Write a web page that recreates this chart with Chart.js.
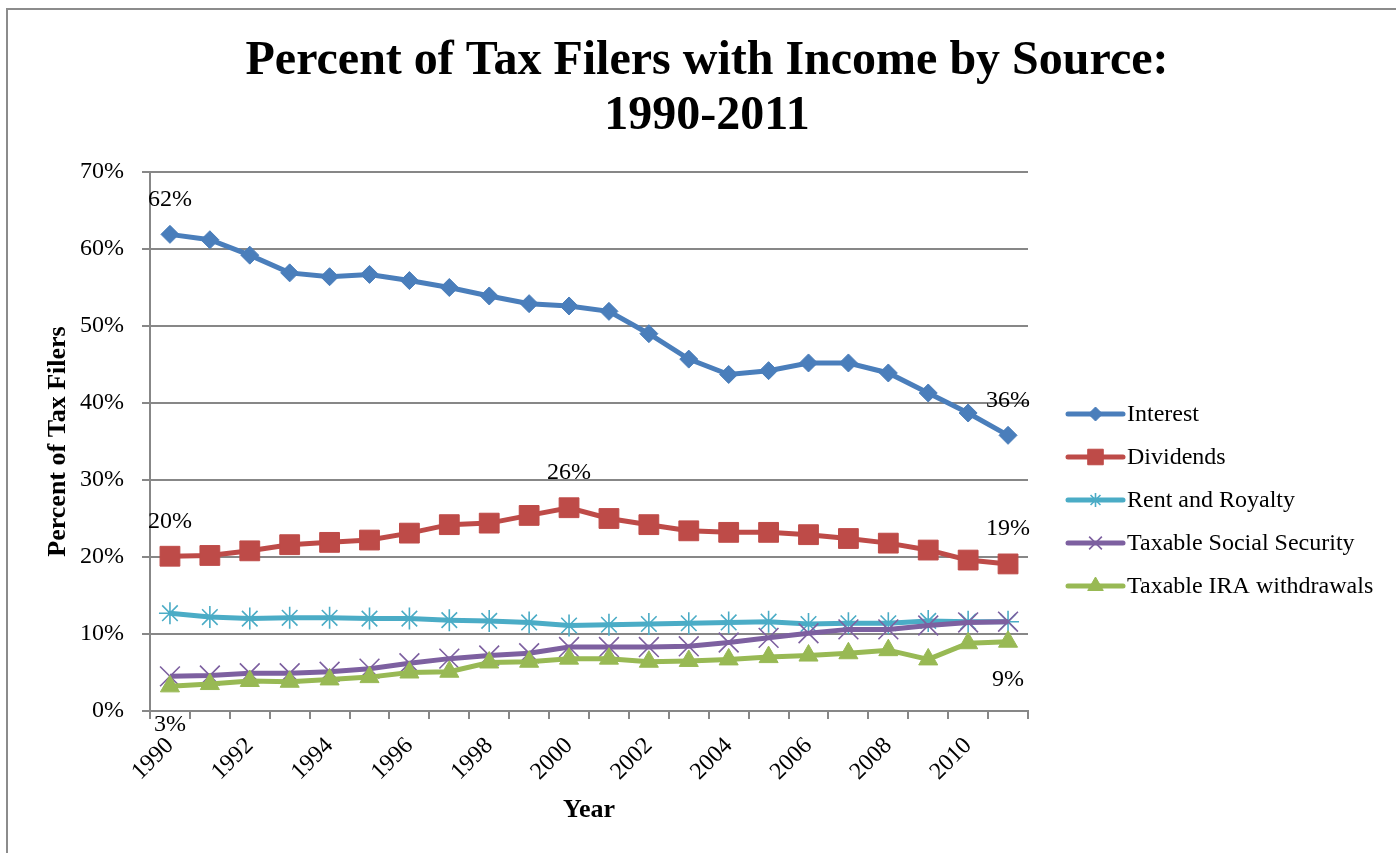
<!DOCTYPE html>
<html>
<head>
<meta charset="utf-8">
<script src="https://cdn.jsdelivr.net/npm/chart.js@4.4.1/dist/chart.umd.min.js"></script>
<style>
  html, body { margin: 0; padding: 0; background: #fff; overflow: hidden; }
  #wrap { position: relative; width: 1396px; height: 853px; }
</style>
</head>
<body>
<div id="wrap"><canvas id="c" width="1396" height="853"></canvas></div>
<script>
// Filing years
const years = ['1990','1991','1992','1993','1994','1995','1996','1997','1998','1999','2000',
               '2001','2002','2003','2004','2005','2006','2007','2008','2009','2010','2011'];

// Percent of tax filers reporting each income source
const interest = [61.9, 61.2, 59.2, 56.9, 56.4, 56.7, 55.9, 55.0, 53.9, 52.9, 52.6,
                  51.9, 49.0, 45.7, 43.7, 44.2, 45.2, 45.2, 43.9, 41.3, 38.7, 35.8];
const dividends = [20.1, 20.2, 20.8, 21.6, 21.9, 22.2, 23.1, 24.2, 24.4, 25.4, 26.4,
                   25.0, 24.2, 23.4, 23.2, 23.2, 22.9, 22.4, 21.8, 20.9, 19.6, 19.1];
const rentRoyalty = [12.7, 12.2, 12.0, 12.1, 12.1, 12.0, 12.0, 11.8, 11.7, 11.5, 11.1,
                     11.2, 11.3, 11.4, 11.5, 11.6, 11.3, 11.4, 11.4, 11.7, 11.6, 11.6];
const socialSecurity = [4.5, 4.6, 4.9, 4.9, 5.1, 5.5, 6.2, 6.8, 7.2, 7.5, 8.3,
                        8.3, 8.3, 8.4, 8.9, 9.5, 10.1, 10.6, 10.6, 11.1, 11.5, 11.6];
const iraWithdrawals = [3.2, 3.5, 3.9, 3.8, 4.1, 4.4, 5.0, 5.1, 6.3, 6.4, 6.8,
                        6.8, 6.4, 6.5, 6.7, 7.0, 7.2, 7.5, 7.9, 6.7, 8.8, 9.0];

// Y axis tick values
const yTicks = [0, 10, 20, 30, 40, 50, 60, 70];

// Value labels: [dataset index, point index, side]
const valueLabels = [
  [0, 0, 'above'], [0, 21, 'above'],
  [1, 0, 'above'], [1, 10, 'above'], [1, 21, 'above'],
  [4, 0, 'below'], [4, 21, 'below']
];

const SERIF = '"Liberation Serif", "Times New Roman", serif';
const AXIS_GRAY = '#878787';

const series = [
  { label: 'Interest', data: interest, color: '#4A7EBB', style: 'rectRot', radius: 9, legendRadius: 7, bw: 1 },
  { label: 'Dividends', data: dividends, color: '#BE4B48', style: 'rect', radius: 14, legendRadius: 11, bw: 1 },
  { label: 'Rent and Royalty', data: rentRoyalty, color: '#4BACC6', style: 'star', radius: 11, legendRadius: 7, bw: 1.6 },
  { label: 'Taxable Social Security', data: socialSecurity, color: '#7D60A0', style: 'crossRot', radius: 14, legendRadius: 9, bw: 1.6 },
  { label: 'Taxable IRA withdrawals', data: iraWithdrawals, color: '#98B954', style: 'triangle', radius: 11, legendRadius: 9, bw: 1 }
];

const datasets = series.map((s, i) => ({
  label: s.label,
  data: s.data,
  borderColor: s.color,
  backgroundColor: s.color,
  borderWidth: 5,
  pointStyle: s.style,
  pointRadius: s.radius,
  pointHoverRadius: s.radius,
  pointBorderWidth: s.bw,
  pointBackgroundColor: s.color,
  pointBorderColor: s.color,
  legendRadius: s.legendRadius,
  tension: 0,
  fill: false,
  order: series.length - i
}));

// Outer frame and heading
const framePlugin = {
  id: 'frame',
  beforeDraw(chart) {
    const ctx = chart.ctx;
    ctx.save();
    ctx.fillStyle = '#fff';
    ctx.fillRect(0, 0, chart.width, chart.height);
    ctx.strokeStyle = '#8c8c8c';
    ctx.lineWidth = 2;
    ctx.strokeRect(7, 9, 1500, 1000);
    ctx.restore();
  },
  afterDraw(chart) {
    const ctx = chart.ctx;
    ctx.save();
    ctx.fillStyle = '#000';
    ctx.textAlign = 'center';
    ctx.textBaseline = 'alphabetic';
    ctx.font = 'bold 48px ' + SERIF;
    ctx.fillText('Percent of Tax Filers with Income by Source:', 707, 74);
    ctx.fillText('1990-2011', 707, 129);

    // axis titles
    ctx.font = 'bold 26px ' + SERIF;
    const ca = chart.chartArea;
    ctx.fillText('Year', (ca.left + ca.right) / 2, 817);
    ctx.translate(65, (ca.top + ca.bottom) / 2);
    ctx.rotate(-Math.PI / 2);
    ctx.fillText('Percent of Tax Filers', 0, 0);
    ctx.restore();
  }
};

// Value labels next to selected points
const valueLabelPlugin = {
  id: 'valueLabels',
  afterDatasetsDraw(chart) {
    const ctx = chart.ctx;
    ctx.save();
    ctx.fillStyle = '#000';
    ctx.font = '24px ' + SERIF;
    ctx.textAlign = 'center';
    ctx.textBaseline = 'middle';
    valueLabels.forEach(([d, i, side]) => {
      const pt = chart.getDatasetMeta(d).data[i];
      const v = chart.data.datasets[d].data[i];
      const y = side === 'above' ? pt.y - 35 : pt.y + 38;
      ctx.fillText(Math.round(v) + '%', pt.x, y);
    });
    ctx.restore();
  }
};

// Legend at the right of the plot
const legendPlugin = {
  id: 'sideLegend',
  afterDraw(chart) {
    const ctx = chart.ctx;
    ctx.save();
    const x0 = 1068, x1 = 1123, tx = 1127, y0 = 414, dy = 43;
    chart.data.datasets.forEach((ds, i) => {
      const y = y0 + i * dy;
      ctx.strokeStyle = ds.borderColor;
      ctx.lineWidth = 5;
      ctx.lineCap = 'round';
      ctx.beginPath();
      ctx.moveTo(x0, y);
      ctx.lineTo(x1, y);
      ctx.stroke();
      ctx.lineCap = 'butt';
      ctx.fillStyle = ds.pointBackgroundColor;
      ctx.strokeStyle = ds.pointBorderColor;
      ctx.lineWidth = ds.pointBorderWidth;
      Chart.helpers.drawPoint(ctx, {
        pointStyle: ds.pointStyle,
        radius: ds.legendRadius,
        rotation: 0,
        borderWidth: ds.pointBorderWidth
      }, (x0 + x1) / 2, y);
      ctx.fillStyle = '#000';
      ctx.font = '24px ' + SERIF;
      ctx.textAlign = 'left';
      ctx.textBaseline = 'middle';
      ctx.fillText(ds.label, tx, y + 1);
    });
    ctx.restore();
  }
};

new Chart(document.getElementById('c'), {
  type: 'line',
  data: { labels: years, datasets },
  options: {
    responsive: false,
    animation: false,
    devicePixelRatio: 1,
    layout: { padding: { top: 172, right: 368, bottom: 0, left: 0 } },
    plugins: {
      legend: { display: false },
      title: { display: false },
      tooltip: { enabled: false }
    },
    scales: {
      x: {
        type: 'category',
        offset: true,
        afterFit(scale) { scale.height = 142; },
        grid: {
          offset: true,
          drawOnChartArea: false,
          drawTicks: true,
          tickLength: 8,
          color: AXIS_GRAY,
          lineWidth: 2
        },
        border: { color: AXIS_GRAY, width: 2 },
        ticks: {
          autoSkip: false,
          maxRotation: 45,
          minRotation: 45,
          padding: 13,
          color: '#000',
          font: { family: SERIF, size: 24 },
          callback: (v, i) => (i % 2 === 0 ? years[i] : '')
        }
      },
      y: {
        min: yTicks[0],
        max: yTicks[yTicks.length - 1],
        afterFit(scale) { scale.width = 150; },
        afterBuildTicks(scale) { scale.ticks = yTicks.map(v => ({ value: v })); },
        grid: {
          color: AXIS_GRAY,
          lineWidth: 2,
          tickLength: 8
        },
        border: { color: AXIS_GRAY, width: 2 },
        ticks: {
          padding: 18,
          color: '#000',
          font: { family: SERIF, size: 24 },
          callback: v => v + '%'
        }
      }
    }
  },
  plugins: [framePlugin, valueLabelPlugin, legendPlugin]
});
</script>
</body>
</html>
